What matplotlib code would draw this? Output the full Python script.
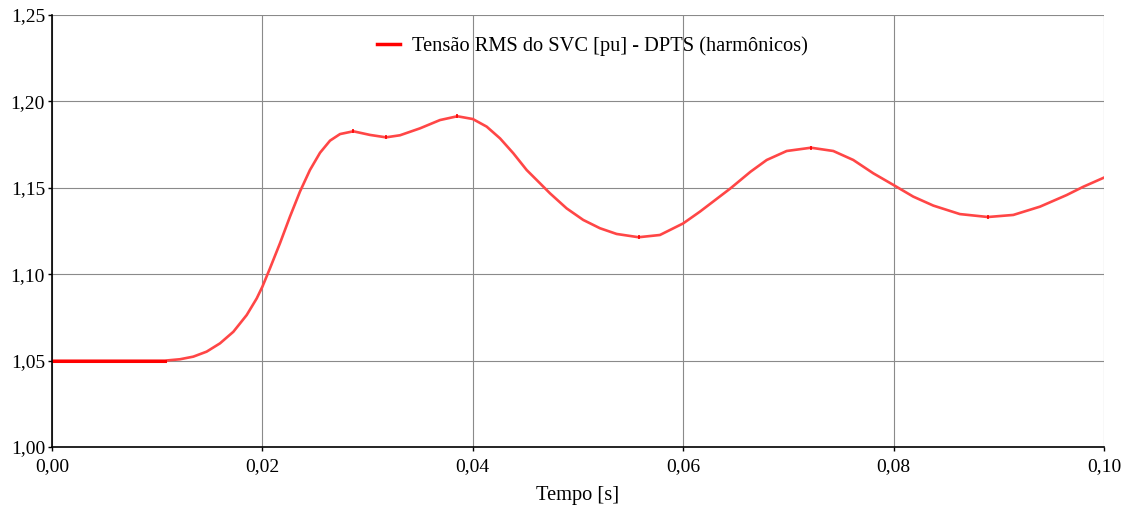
import numpy as np
import matplotlib
matplotlib.use('Agg')
from matplotlib import pyplot as plt
from matplotlib.ticker import FuncFormatter

plt.rcParams['font.family'] = ['Liberation Serif', 'DejaVu Serif']

# tensao RMS
t = [0.0, 0.01074, 0.01217, 0.01343, 0.0147, 0.01597, 0.01724, 0.01851,
     0.01946, 0.0200, 0.02072, 0.02167, 0.02262, 0.02357, 0.02452, 0.02548,
     0.02643, 0.02738, 0.02864, 0.03023, 0.03175, 0.03308, 0.03498, 0.03688,
     0.03853, 0.0400, 0.04132, 0.04259, 0.04385, 0.04512, 0.04639, 0.04734,
     0.04892, 0.0505, 0.05209, 0.05367, 0.05576, 0.05779, 0.0600, 0.06159,
     0.0645, 0.0664, 0.06794, 0.06984, 0.07215, 0.07427, 0.07617, 0.07807,
     0.0800, 0.08187, 0.08378, 0.0863, 0.08897, 0.09138, 0.09392, 0.09645,
     0.09803, 0.1000]
v = [1.0500, 1.0500, 1.0508, 1.0523, 1.0552, 1.0600, 1.0667, 1.0764,
     1.0860, 1.0928, 1.1034, 1.1179, 1.1333, 1.1478, 1.1603, 1.1703,
     1.1773, 1.1811, 1.1827, 1.1806, 1.1792, 1.1804, 1.1844, 1.1892,
     1.1914, 1.1898, 1.1854, 1.1786, 1.1700, 1.1603, 1.1526, 1.1468,
     1.1381, 1.1314, 1.1266, 1.1233, 1.1214, 1.1227, 1.1294, 1.1362,
     1.1497, 1.1593, 1.1661, 1.1713, 1.1732, 1.1713, 1.1661, 1.1584,
     1.1516, 1.1449, 1.1397, 1.1348, 1.1331, 1.1343, 1.1391, 1.1458,
     1.1506, 1.1559]
# extremos marcados
t_ext = [0.02864, 0.03175, 0.03853, 0.05576, 0.07215, 0.08897]
v_ext = [1.1827, 1.1792, 1.1914, 1.1214, 1.1732, 1.1331]

fig = plt.figure(figsize=(11.28, 5.08), dpi=100)
ax = fig.add_axes([0.0461, 0.120, 0.9326, 0.8505])

ax.plot(t, v, color='#ff4646', lw=1.9, solid_joinstyle='round')
ax.plot(t[:2], v[:2], color='#ff0000', lw=2.2)
ax.plot(t_ext, v_ext, ls='none', marker='|', ms=3, mew=1.2, color='#ff0000')
ax.plot([], [], color='#ff0000', lw=2.5,
        label='Tensão RMS do SVC [pu] - DPTS (harmônicos)')

ax.set_xlim(0, 0.1)
ax.set_ylim(1.0, 1.25)
ax.set_xticks(np.arange(0, 0.101, 0.02))
ax.set_yticks(np.arange(1.0, 1.251, 0.05))
ax.xaxis.set_major_formatter(FuncFormatter(lambda x, p: f'{x:.2f}'.replace('.', ',')))
ax.yaxis.set_major_formatter(FuncFormatter(lambda x, p: f'{x:.2f}'.replace('.', ',')))
ax.tick_params(labelsize=14, length=3, width=1, colors='black', pad=2)
ax.tick_params(axis='x', pad=5)
ax.grid(True, color='#8a8a8a', lw=0.8)
ax.set_axisbelow(True)
for s in ['top', 'right']:
    ax.spines[s].set_visible(False)
for s in ['left', 'bottom']:
    ax.spines[s].set_linewidth(1.2)

ax.set_xlabel('Tempo [s]', fontsize=14.7, labelpad=8)
ax.legend(loc='upper center', bbox_to_anchor=(0.514, 0.993), frameon=False,
          fontsize=14.7, handlelength=1.1, handletextpad=0.6)

fig.savefig('out.png', dpi=100)
